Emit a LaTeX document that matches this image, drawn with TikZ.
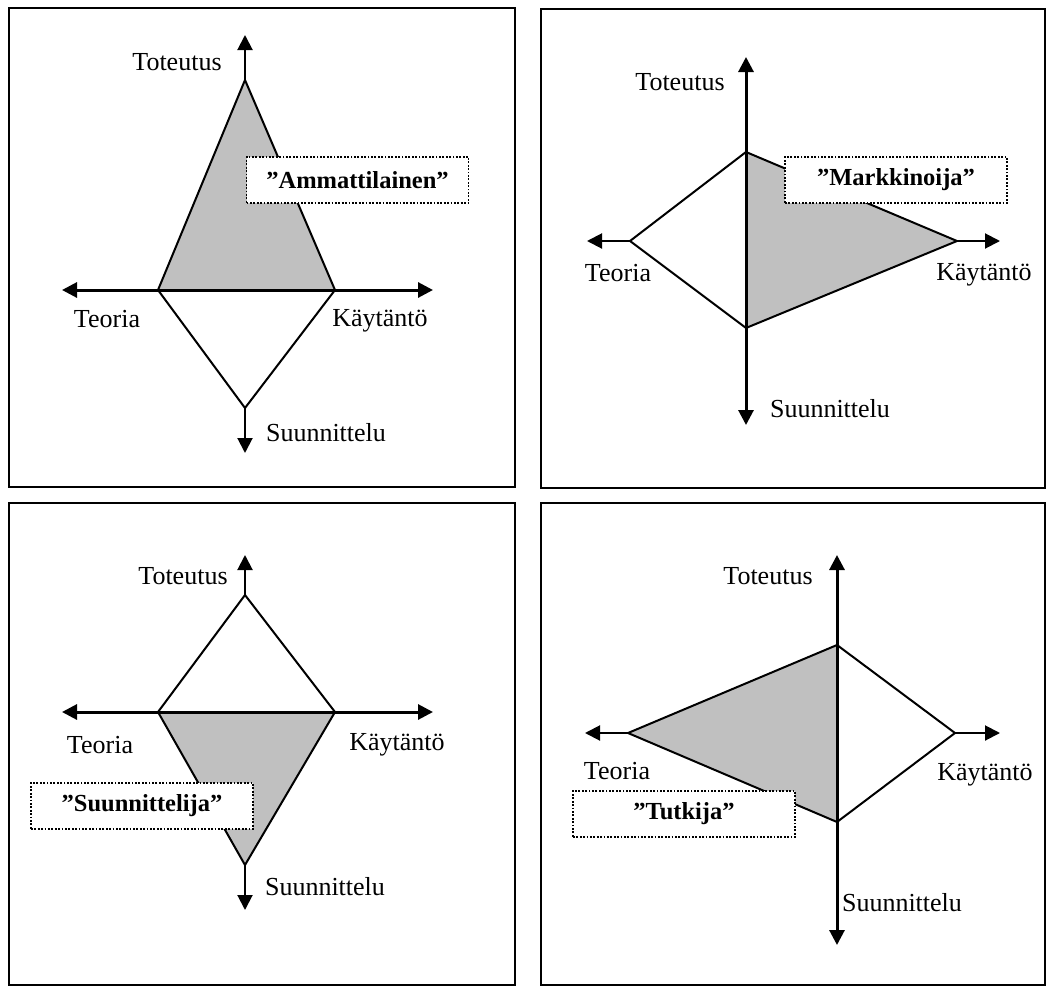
\documentclass[tikz,border=0pt]{standalone}
\usepackage{fontspec}
\setmainfont{Liberation Serif}
\usetikzlibrary{arrows.meta}
\definecolor{shade}{RGB}{192,192,192}
\tikzset{
  frame/.style={draw=black, line width=1.5pt},
  edge/.style={draw=black, line width=2pt, line join=miter},
  thinaxis/.style={draw=black, line width=2pt, -{Triangle[length=15pt,width=15pt]}},
  thickaxis/.style={draw=black, line width=3pt, {Triangle[length=15pt,width=15pt]}-{Triangle[length=15pt,width=15pt]}},
  lbl/.style={inner sep=0pt, font=\fontsize{26}{31}\selectfont},
  rolebox/.style={draw=black, fill=white, line width=1.8pt, dash pattern=on 1.8pt off 1.6pt,
    minimum width=222pt, minimum height=46pt, inner sep=0pt, font=\fontsize{24.5}{29}\selectfont\bfseries},
  shaded/.style={fill=shade}
}
\begin{document}
\begin{tikzpicture}[x=1pt,y=-1pt]
\useasboundingbox (0,0) rectangle (1053,988);
\fill[white] (0,0) rectangle (1053,988);

% ---------- frames ----------
\draw[frame] (9,8) rectangle (515,487);
\draw[frame] (541,9) rectangle (1045,488);
\draw[frame] (9,503) rectangle (515,985);
\draw[frame] (541,503) rectangle (1045,985);

% ---------- panel 1: Ammattilainen ----------
\coordinate (T1) at (245,80);
\coordinate (L1) at (158,290);
\coordinate (R1) at (335,290);
\coordinate (B1) at (245,408);
\coordinate (tu1) at (245,35);
\coordinate (td1) at (245,453);
\coordinate (tl1) at (62,290);
\coordinate (tr1) at (433,290);
\fill[shaded] (T1) -- (L1) -- (R1) -- cycle;
\draw[edge] (T1) -- (L1) -- (B1) -- (R1) -- cycle;
\draw[thickaxis] (tl1) -- (tr1);
\draw[thinaxis] (T1) -- (tu1);
\draw[thinaxis] (B1) -- (td1);
\node[lbl] (to1) at (177,62) {Toteutus};
\node[lbl] (te1) at (107,319) {Teoria};
\node[lbl] (ka1) at (380,321) {Käytäntö};
\node[lbl] (su1) at (326,433) {Suunnittelu};
\node[rolebox] (r1) at (357.5,180) {”Ammattilainen”};

% ---------- panel 2: Markkinoija ----------
\coordinate (T2) at (746,152);
\coordinate (L2) at (630,241);
\coordinate (R2) at (957,241);
\coordinate (B2) at (746,328);
\coordinate (tu2) at (746,57);
\coordinate (td2) at (746,425);
\coordinate (tl2) at (587,241);
\coordinate (tr2) at (1000,241);
\fill[shaded] (T2) -- (R2) -- (B2) -- cycle;
\draw[edge] (T2) -- (L2) -- (B2) -- (R2) -- cycle;
\draw[thickaxis] (tu2) -- (td2);
\draw[thinaxis] (L2) -- (tl2);
\draw[thinaxis] (R2) -- (tr2);
\node[lbl] (to2) at (680,82) {Toteutus};
\node[lbl] (te2) at (618,273) {Teoria};
\node[lbl] (ka2) at (984,275) {Käytäntö};
\node[lbl] (su2) at (830,409) {Suunnittelu};
\node[rolebox] (r2) at (896,180) {”Markkinoija”};

% ---------- panel 3: Suunnittelija ----------
\coordinate (T3) at (245,595);
\coordinate (L3) at (158,712);
\coordinate (R3) at (335,712);
\coordinate (B3) at (245,865);
\coordinate (tu3) at (245,555);
\coordinate (td3) at (245,910);
\coordinate (tl3) at (62,712);
\coordinate (tr3) at (433,712);
\fill[shaded] (L3) -- (R3) -- (B3) -- cycle;
\draw[edge] (T3) -- (L3) -- (B3) -- (R3) -- cycle;
\draw[thickaxis] (tl3) -- (tr3);
\draw[thinaxis] (T3) -- (tu3);
\draw[thinaxis] (B3) -- (td3);
\node[lbl] (to3) at (183,576) {Toteutus};
\node[lbl] (te3) at (100,745) {Teoria};
\node[lbl] (ka3) at (397,745) {Käytäntö};
\node[lbl] (su3) at (325,887) {Suunnittelu};
\node[rolebox] (r3) at (142,806) {”Suunnittelija”};

% ---------- panel 4: Tutkija ----------
\coordinate (T4) at (837,645);
\coordinate (L4) at (628,733);
\coordinate (R4) at (955,733);
\coordinate (B4) at (837,822);
\coordinate (tu4) at (837,555);
\coordinate (td4) at (837,945);
\coordinate (tl4) at (585,733);
\coordinate (tr4) at (1000,733);
\fill[shaded] (T4) -- (L4) -- (B4) -- cycle;
\draw[edge] (T4) -- (L4) -- (B4) -- (R4) -- cycle;
\draw[thickaxis] (tu4) -- (td4);
\draw[thinaxis] (L4) -- (tl4);
\draw[thinaxis] (R4) -- (tr4);
\node[lbl] (to4) at (768,576) {Toteutus};
\node[lbl] (te4) at (617,771) {Teoria};
\node[lbl] (ka4) at (985,775) {Käytäntö};
\node[lbl] (su4) at (902,903) {Suunnittelu};
\node[rolebox] (r4) at (684,814) {”Tutkija”};
\end{tikzpicture}
\end{document}
